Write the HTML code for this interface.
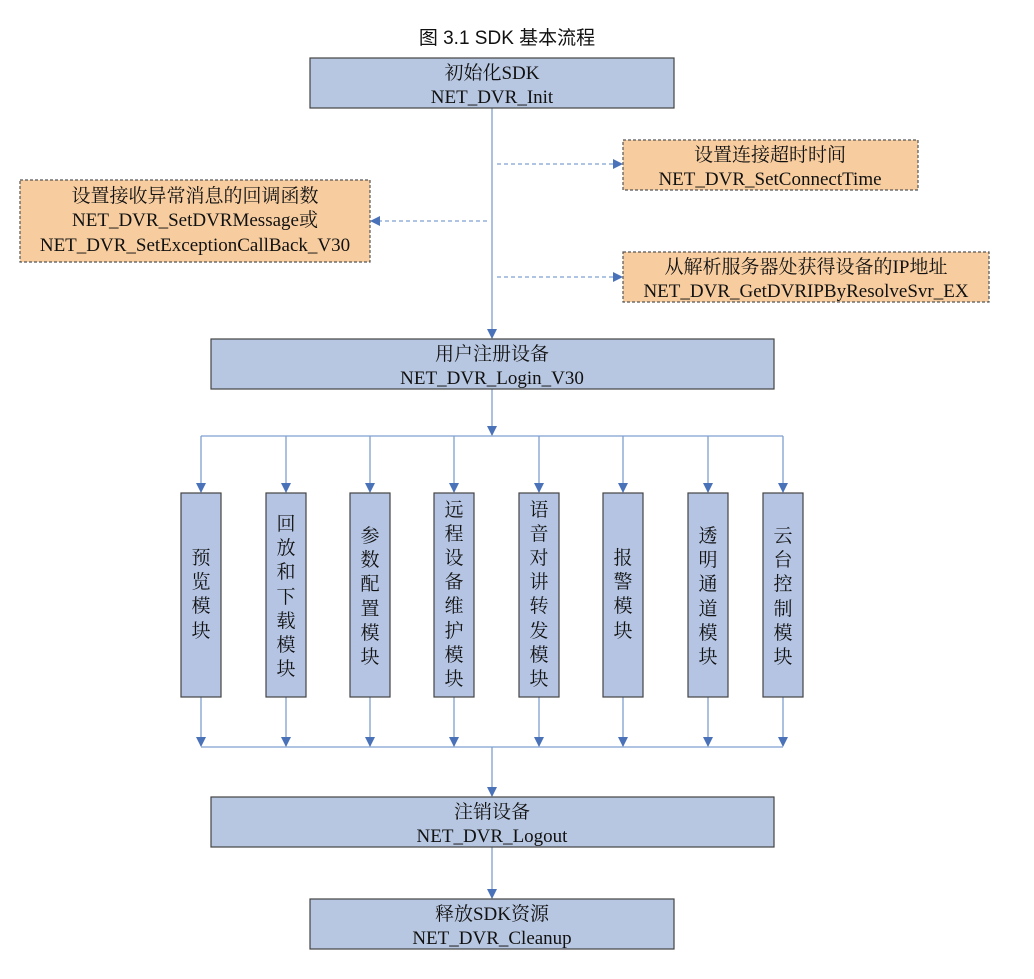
<!DOCTYPE html>
<html><head><meta charset="utf-8"><style>
body{margin:0;background:#fff;}
svg text{font-family:"Liberation Serif","Noto Serif CJK SC","Noto Sans CJK SC",serif;font-size:19px;fill:#111;}
</style></head><body>
<svg width="1034" height="974" viewBox="0 0 1034 974" xmlns="http://www.w3.org/2000/svg">
<defs>
<marker id="a" markerWidth="10" markerHeight="10" refX="9" refY="5" orient="auto" markerUnits="userSpaceOnUse"><path d="M0,0 L10,5 L0,10 z" fill="#4a72b8"/></marker>
</defs>
<text x="507" y="44" text-anchor="middle" style="font-family:'Liberation Sans','Noto Sans CJK SC',sans-serif;font-size:19px">图  3.1 SDK 基本流程</text>

<!-- main line -->
<g stroke="#7f9fd0" stroke-width="1.3" fill="none">
<line x1="492" y1="108" x2="492" y2="338" marker-end="url(#a)"/>
<line x1="492" y1="389" x2="492" y2="435" marker-end="url(#a)"/>
<line x1="201" y1="436" x2="783" y2="436"/>
<line x1="201" y1="747" x2="783" y2="747"/>
<line x1="492" y1="747" x2="492" y2="796" marker-end="url(#a)"/>
<line x1="492" y1="847" x2="492" y2="898" marker-end="url(#a)"/>
</g>
<g stroke="#7f9fd0" stroke-width="1.3" stroke-dasharray="4,3" fill="none">
<line x1="497" y1="164" x2="622" y2="164" marker-end="url(#a)"/>
<line x1="487" y1="221" x2="371" y2="221" marker-end="url(#a)"/>
<line x1="497" y1="277" x2="622" y2="277" marker-end="url(#a)"/>
</g>

<!-- module arrows -->
<g stroke="#7f9fd0" stroke-width="1.3" fill="none">
<line x1="201" y1="436" x2="201" y2="492" marker-end="url(#a)"/><line x1="201" y1="697" x2="201" y2="746" marker-end="url(#a)"/>
<line x1="286" y1="436" x2="286" y2="492" marker-end="url(#a)"/><line x1="286" y1="697" x2="286" y2="746" marker-end="url(#a)"/>
<line x1="370" y1="436" x2="370" y2="492" marker-end="url(#a)"/><line x1="370" y1="697" x2="370" y2="746" marker-end="url(#a)"/>
<line x1="454" y1="436" x2="454" y2="492" marker-end="url(#a)"/><line x1="454" y1="697" x2="454" y2="746" marker-end="url(#a)"/>
<line x1="539" y1="436" x2="539" y2="492" marker-end="url(#a)"/><line x1="539" y1="697" x2="539" y2="746" marker-end="url(#a)"/>
<line x1="623" y1="436" x2="623" y2="492" marker-end="url(#a)"/><line x1="623" y1="697" x2="623" y2="746" marker-end="url(#a)"/>
<line x1="708" y1="436" x2="708" y2="492" marker-end="url(#a)"/><line x1="708" y1="697" x2="708" y2="746" marker-end="url(#a)"/>
<line x1="783" y1="436" x2="783" y2="492" marker-end="url(#a)"/><line x1="783" y1="697" x2="783" y2="746" marker-end="url(#a)"/>
</g>

<!-- main boxes -->
<g fill="#b8c7e1" stroke="#444" stroke-width="1.2">
<rect x="310" y="58" width="364" height="50"/>
<rect x="211" y="339" width="563" height="50"/>
<rect x="211" y="797" width="563" height="50"/>
<rect x="310" y="899" width="364" height="50"/>
</g>
<g text-anchor="middle">
<text x="492" y="79">初始化SDK</text><text x="492" y="103">NET_DVR_Init</text>
<text x="492" y="360">用户注册设备</text><text x="492" y="384">NET_DVR_Login_V30</text>
<text x="492" y="818">注销设备</text><text x="492" y="842">NET_DVR_Logout</text>
<text x="492" y="920">释放SDK资源</text><text x="492" y="944">NET_DVR_Cleanup</text>
</g>

<!-- orange boxes -->
<g fill="#f7cda0" stroke="#555" stroke-width="1.2" stroke-dasharray="3,2">
<rect x="623" y="140" width="295" height="50"/>
<rect x="20" y="180" width="350" height="82"/>
<rect x="623" y="252" width="366" height="50"/>
</g>
<g text-anchor="middle">
<text x="770" y="161">设置连接超时时间</text><text x="770" y="185">NET_DVR_SetConnectTime</text>
<text x="195" y="202">设置接收异常消息的回调函数</text><text x="195" y="226">NET_DVR_SetDVRMessage或</text><text x="195" y="251">NET_DVR_SetExceptionCallBack_V30</text>
<text x="806" y="273">从解析服务器处获得设备的IP地址</text><text x="806" y="297">NET_DVR_GetDVRIPByResolveSvr_EX</text>
</g>

<!-- module boxes -->
<g fill="#b4c4e2" stroke="#444" stroke-width="1.2">
<rect x="181" y="493" width="40" height="204"/>
<rect x="266" y="493" width="40" height="204"/>
<rect x="350" y="493" width="40" height="204"/>
<rect x="434" y="493" width="40" height="204"/>
<rect x="519" y="493" width="40" height="204"/>
<rect x="603" y="493" width="40" height="204"/>
<rect x="688" y="493" width="40" height="204"/>
<rect x="763" y="493" width="40" height="204"/>
</g>
<g text-anchor="middle" style="font-size:20px">
<text x="201" y="564">预</text><text x="201" y="588">览</text><text x="201" y="612">模</text><text x="201" y="637">块</text>
<text x="286" y="530">回</text><text x="286" y="554">放</text><text x="286" y="578">和</text><text x="286" y="603">下</text><text x="286" y="627">载</text><text x="286" y="651">模</text><text x="286" y="675">块</text>
<text x="370" y="542">参</text><text x="370" y="566">数</text><text x="370" y="590">配</text><text x="370" y="615">置</text><text x="370" y="639">模</text><text x="370" y="663">块</text>
<text x="454" y="516">远</text><text x="454" y="540">程</text><text x="454" y="564">设</text><text x="454" y="588">备</text><text x="454" y="612">维</text><text x="454" y="637">护</text><text x="454" y="661">模</text><text x="454" y="685">块</text>
<text x="539" y="516">语</text><text x="539" y="540">音</text><text x="539" y="564">对</text><text x="539" y="588">讲</text><text x="539" y="612">转</text><text x="539" y="637">发</text><text x="539" y="661">模</text><text x="539" y="685">块</text>
<text x="623" y="564">报</text><text x="623" y="588">警</text><text x="623" y="612">模</text><text x="623" y="637">块</text>
<text x="708" y="542">透</text><text x="708" y="566">明</text><text x="708" y="590">通</text><text x="708" y="615">道</text><text x="708" y="639">模</text><text x="708" y="663">块</text>
<text x="783" y="542">云</text><text x="783" y="566">台</text><text x="783" y="590">控</text><text x="783" y="615">制</text><text x="783" y="639">模</text><text x="783" y="663">块</text>
</g>
</svg>
</body></html>
